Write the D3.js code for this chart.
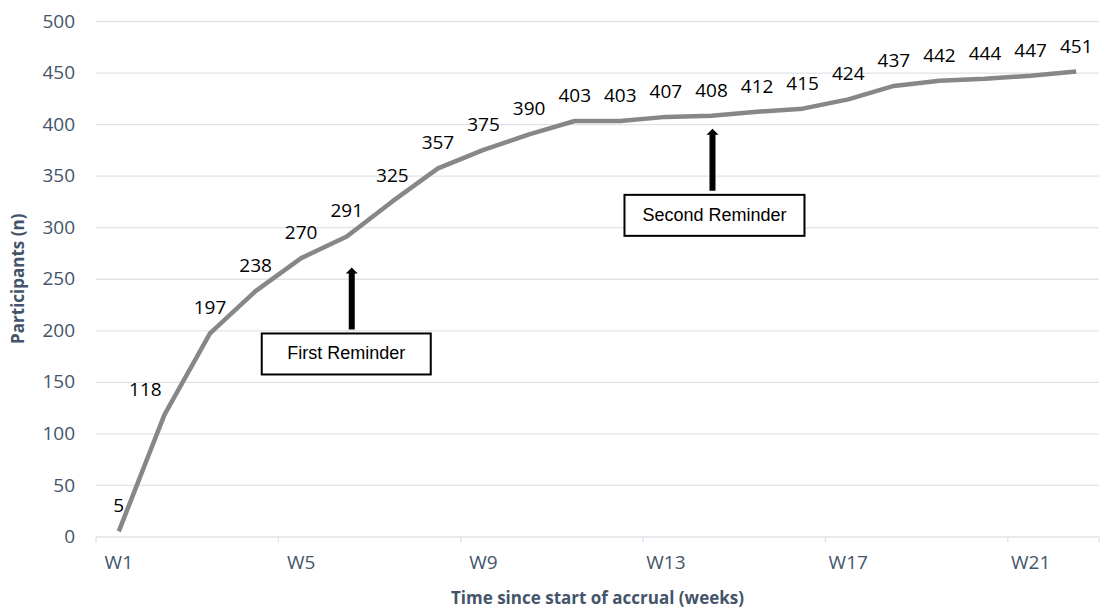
<!doctype html>
<html>
<head>
  <script src="https://cdnjs.cloudflare.com/ajax/libs/d3/7.8.5/d3.min.js"></script>
  <style>
    body { margin: 0; background: #fff; }
    svg { display: block; }
  </style>
</head>
<body>
  <svg id="chart" width="1101" height="611"></svg>
  <script>
    var weeks = d3.range(1, 23).map(d => "W" + d);
    var participants = [5, 118, 197, 238, 270, 291, 325, 357, 375, 390, 403, 403, 407, 408, 412, 415, 424, 437, 442, 444, 447, 451];
    var yTicks = [0, 50, 100, 150, 200, 250, 300, 350, 400, 450, 500];
    var xLabelWeeks = ["W1", "W5", "W9", "W13", "W17", "W21"];
    var reminders = [
      { week: "W6", text: "First Reminder" },
      { week: "W14", text: "Second Reminder" }
    ];

    var svg = d3.select("#chart");
    var plotLeft = 96, plotRight = 1099, plotTop = 21, plotBottom = 536.5;
    var axisFont = "'Open Sans', sans-serif";
    var axisColor = "#44546a";

    var x = d3.scaleBand().domain(weeks).range([plotLeft, plotRight]).padding(0);
    var y = d3.scaleLinear().domain([0, 500]).range([plotBottom, plotTop]);
    var cx = d => x(d) + x.bandwidth() / 2;

    // gridlines + y labels
    var yAxis = svg.append("g")
      .attr("transform", `translate(${plotLeft},0)`)
      .call(d3.axisLeft(y).tickValues(yTicks).tickSize(-(plotRight - plotLeft)).tickPadding(21));
    yAxis.select(".domain").remove();
    yAxis.selectAll("line").attr("stroke", "#dfe3e8").attr("stroke-width", 1.3);
    yAxis.selectAll("text")
      .style("font-family", axisFont).style("font-size", "19px").attr("fill", axisColor);

    // x labels
    var xAxis = svg.append("g")
      .attr("transform", `translate(0,${plotBottom})`)
      .call(d3.axisBottom(x).tickValues(xLabelWeeks).tickSize(0).tickPadding(19));
    xAxis.select(".domain").remove();
    xAxis.selectAll("text")
      .style("font-family", axisFont).style("font-size", "19px").attr("fill", axisColor);

    // tick marks at category boundaries
    svg.append("g").selectAll("line")
      .data(xLabelWeeks.concat(["end"]))
      .join("line")
      .attr("x1", d => d === "end" ? plotRight : x(d))
      .attr("x2", d => d === "end" ? plotRight : x(d))
      .attr("y1", plotBottom).attr("y2", plotBottom + 6)
      .attr("stroke", "#dfe3e8").attr("stroke-width", 1.3);

    // line
    var line = d3.line().x((d, i) => cx(weeks[i])).y(d => y(d));
    svg.append("path")
      .datum(participants)
      .attr("d", line)
      .attr("fill", "none")
      .attr("stroke", "#878787")
      .attr("stroke-width", 4.5)
      .attr("stroke-linejoin", "round");

    // data labels (the W2 label sits a bit left of its point, as in the original)
    svg.append("g").selectAll("text")
      .data(participants)
      .join("text")
      .attr("x", (d, i) => cx(weeks[i]) - (i === 1 ? 19 : 0))
      .attr("y", d => y(d) - 19)
      .attr("text-anchor", "middle")
      .style("font-family", axisFont).style("font-size", "19px")
      .attr("fill", "#000")
      .text(d => d);

    // reminders: arrow + box
    var boxW = [169, 180], boxShift = [-5.5, 2];
    var remG = svg.append("g").selectAll("g")
      .data(reminders)
      .join("g");

    remG.each(function(d, i) {
      var g = d3.select(this);
      var ax = cx(d.week) + (i === 0 ? 5 : 1);
      var idx = weeks.indexOf(d.week);
      var tipY = y(participants[idx]) + (i === 0 ? 31 : 13);
      var baseY = tipY + 62;
      var boxTop = tipY + 66;
      var bc = ax + boxShift[i];
      g.append("path")
        .attr("d", `M${ax - 3},${baseY} L${ax - 3},${tipY + 6} L${ax - 6},${tipY + 6} L${ax},${tipY} L${ax + 6},${tipY + 6} L${ax + 3},${tipY + 6} L${ax + 3},${baseY} Z`)
        .attr("fill", "#000");
      g.append("rect")
        .attr("x", bc - boxW[i] / 2).attr("y", boxTop)
        .attr("width", boxW[i]).attr("height", 41)
        .attr("fill", "#fff").attr("stroke", "#000").attr("stroke-width", 2);
      g.append("text")
        .attr("x", bc).attr("y", boxTop + 21)
        .attr("text-anchor", "middle").attr("dominant-baseline", "middle")
        .style("font-family", "'Liberation Sans', Arial, sans-serif").style("font-size", "18px")
        .attr("fill", "#000")
        .text(d.text);
    });

    // axis titles
    svg.append("text")
      .attr("transform", `translate(24,${(plotTop + plotBottom) / 2}) rotate(-90)`)
      .attr("text-anchor", "middle")
      .style("font-family", axisFont).style("font-size", "17px").style("font-weight", "bold")
      .attr("fill", axisColor)
      .text("Participants (n)");

    svg.append("text")
      .attr("x", (plotLeft + plotRight) / 2).attr("y", 604)
      .attr("text-anchor", "middle")
      .style("font-family", axisFont).style("font-size", "17px").style("font-weight", "bold")
      .attr("fill", axisColor)
      .text("Time since start of accrual (weeks)");
  </script>
</body>
</html>
